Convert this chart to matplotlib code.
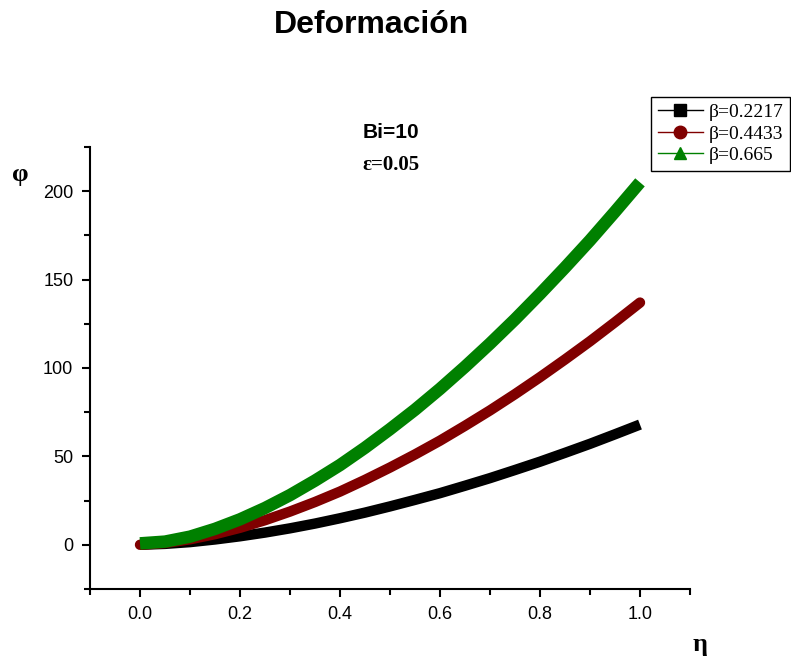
import numpy as np
import matplotlib.pyplot as plt
from matplotlib.lines import Line2D
from matplotlib.ticker import MultipleLocator

eta = [0.0, 0.05, 0.1, 0.15, 0.2, 0.25, 0.3, 0.35, 0.4, 0.45, 0.5,
       0.55, 0.6, 0.65, 0.7, 0.75, 0.8, 0.85, 0.9, 0.95, 1.0]
phi_b1 = [0.0, 0.5, 1.5, 3.0, 4.8, 6.9, 9.3, 12.0, 15.0, 18.2, 21.7,
          25.4, 29.2, 33.4, 37.7, 42.3, 47.0, 52.0, 57.1, 62.5, 68.0]
phi_b2 = [0.0, 1.0, 3.1, 6.0, 9.6, 13.9, 18.8, 24.2, 30.1, 36.7, 43.7,
          51.1, 58.9, 67.3, 76.0, 85.2, 94.8, 104.8, 115.1, 125.9, 137.0]
phi_b3 = [0.8, 1.8, 4.6, 9.0, 14.4, 20.8, 28.1, 36.3, 45.1, 54.9, 65.4,
          76.4, 88.2, 100.7, 113.8, 127.5, 141.9, 156.8, 172.2, 188.4, 205.0]
labels = ['β=0.2217', 'β=0.4433', 'β=0.665']
colors = ['black', '#800000', '#008000']
markers = ['s', 'o', '^']

sans = 'Liberation Sans'
serif = 'Liberation Serif'

fig = plt.figure(figsize=(7.91, 6.58), dpi=100)
ax = fig.add_axes([0.1138, 0.1049, 0.7585, 0.6717])

ax.plot(eta, phi_b1, color=colors[0], lw=7.5, solid_capstyle='butt')
ax.plot(eta, phi_b2, color=colors[1], lw=7.5, solid_capstyle='round')
ax.plot(eta, phi_b3, color=colors[2], lw=9, solid_capstyle='butt')

ax.set_xlim(-0.1, 1.1)
ax.set_ylim(-25, 225)
ax.xaxis.set_minor_locator(MultipleLocator(0.1))
ax.yaxis.set_minor_locator(MultipleLocator(25))
ax.set_xticks([0.0, 0.2, 0.4, 0.6, 0.8, 1.0])
ax.set_xticklabels(['0.0', '0.2', '0.4', '0.6', '0.8', '1.0'])
ax.set_yticks([0, 50, 100, 150, 200])

for s in ['top', 'right']:
    ax.spines[s].set_visible(False)
for s in ['left', 'bottom']:
    ax.spines[s].set_linewidth(1.5)
ax.tick_params(which='major', direction='out', length=6, width=1.5,
               labelsize=13, pad=6)
ax.tick_params(which='minor', direction='out', length=4, width=1.5)
for t in ax.get_xticklabels() + ax.get_yticklabels():
    t.set_fontfamily(sans)

fig.text(0.470, 0.962, 'Deformación', ha='center', va='center',
         fontsize=23, fontweight='bold', family=sans)
fig.text(0.494, 0.799, 'Bi=10', ha='center', va='center',
         fontsize=15, fontweight='bold', family=sans)
fig.text(0.494, 0.750, 'ε=0.05', ha='center', va='center',
         fontsize=15, fontweight='bold', family=serif)
fig.text(0.026, 0.735, 'φ', ha='center', va='center',
         fontsize=19, fontweight='bold', family=serif)
fig.text(0.885, 0.02, 'η', ha='center', va='center',
         fontsize=19, fontweight='bold', family=serif)

handles = [Line2D([], [], color=c, marker=m, markersize=9, lw=1)
           for c, m in zip(colors, markers)]
leg = fig.legend(handles, labels, loc='upper right',
                 bbox_to_anchor=(0.999, 0.853), borderaxespad=0,
                 fancybox=False, edgecolor='black', framealpha=1,
                 prop={'family': serif, 'size': 14}, handlelength=2.3,
                 handletextpad=0.3, labelspacing=0.2, borderpad=0.35)
leg.get_frame().set_linewidth(1)

fig.savefig('out.png', dpi=100)
